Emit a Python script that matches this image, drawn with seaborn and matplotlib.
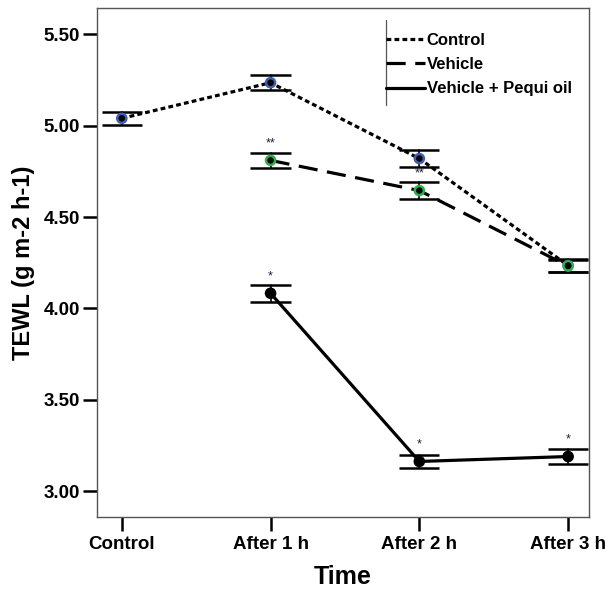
import pandas as pd
import seaborn as sns
import matplotlib.pyplot as plt
from matplotlib.lines import Line2D

# values
times = ["Control", "After 1 h", "After 2 h", "After 3 h"]

control_x = ["Control", "After 1 h", "After 2 h", "After 3 h"]
control_mean = [5.04, 5.235, 4.82, 4.235]
control_err = [0.035, 0.04, 0.045, 0.035]

vehicle_x = ["After 1 h", "After 2 h", "After 3 h"]
vehicle_mean = [4.81, 4.645, 4.232]
vehicle_err = [0.04, 0.045, 0.035]

pequi_x = ["After 1 h", "After 2 h", "After 3 h"]
pequi_mean = [4.083, 3.163, 3.19]
pequi_err = [0.045, 0.035, 0.04]

vehicle_marks = ["**", "**", ""]
pequi_marks = ["*", "*", "*"]

groups = ["Control", "Vehicle", "Vehicle + Pequi oil"]

rows = []
for g, xs, ms, es in [("Control", control_x, control_mean, control_err),
                      ("Vehicle", vehicle_x, vehicle_mean, vehicle_err),
                      ("Vehicle + Pequi oil", pequi_x, pequi_mean, pequi_err)]:
    for t, m, e in zip(xs, ms, es):
        rows.append({"group": g, "time": t, "pos": times.index(t), "tewl": m, "err": e})
df = pd.DataFrame(rows)

sns.set_style("white")
plt.rcParams["font.family"] = ["Liberation Sans", "DejaVu Sans"]
plt.rcParams["font.weight"] = "bold"
plt.rcParams["text.color"] = "black"
plt.rcParams["axes.labelcolor"] = "black"
plt.rcParams["xtick.color"] = "black"
plt.rcParams["ytick.color"] = "black"

fig = plt.figure(figsize=(6.05, 5.89), dpi=100)
ax = fig.add_axes([0.160, 0.1222, 0.8137, 0.8637])

lw = 2.3
dash_map = {"Control": (1.5, 1.0), "Vehicle": (6, 3), "Vehicle + Pequi oil": ""}
sns.lineplot(data=df, x="pos", y="tewl", hue="group", style="group",
             palette=["black"] * 3, dashes=dash_map, linewidth=lw,
             legend=False, ax=ax, sort=False, errorbar=None)

# error bar caps
cap_w = 0.135
for _, r in df.iterrows():
    for yv in (r.tewl - r.err, r.tewl + r.err):
        ax.plot([r.pos - cap_w, r.pos + cap_w], [yv, yv], color="black", lw=1.8,
                solid_capstyle="butt")
    ax.plot([r.pos, r.pos], [r.tewl - r.err, r.tewl + r.err], color="black", lw=1.2)

# markers: coloured disk with small black centre
sns.scatterplot(data=df, x="pos", y="tewl", hue="group",
                palette={"Control": "#3f5fb0", "Vehicle": "#2fb04f",
                         "Vehicle + Pequi oil": "black"},
                s=70, edgecolor="none", legend=False, ax=ax, zorder=4)
sns.scatterplot(data=df, x="pos", y="tewl", color="black", s=22,
                edgecolor="none", legend=False, ax=ax, zorder=5)

# significance marks
for xs, ms, marks in [(vehicle_x, vehicle_mean, vehicle_marks),
                      (pequi_x, pequi_mean, pequi_marks)]:
    for t, m, mk in zip(xs, ms, marks):
        if mk:
            ax.text(times.index(t), m + 0.06, mk, ha="center", va="bottom",
                    fontsize=9, color="#1a2040", fontweight="normal")

ax.set_xlim(-0.168, 3.141)
ax.set_ylim(2.859, 5.642)
ax.set_xticks(range(len(times)))
ax.set_xticklabels(times)
ax.set_yticks([3.0, 3.5, 4.0, 4.5, 5.0, 5.5])
ax.set_yticklabels(["3.00", "3.50", "4.00", "4.50", "5.00", "5.50"])
ax.tick_params(axis="both", labelsize=13.5, width=1.8, color="black",
               direction="out", bottom=True, left=True)
ax.tick_params(axis="x", length=10, pad=4)
ax.tick_params(axis="y", length=10, pad=2)
for lab in ax.get_xticklabels() + ax.get_yticklabels():
    lab.set_fontweight("bold")
ax.set_xlabel("Time", fontsize=18, fontweight="bold", labelpad=8.5)
ax.set_ylabel("TEWL (g m-2 h-1)", fontsize=17, fontweight="bold", labelpad=6)
for sp in ax.spines.values():
    sp.set_color("#555555")
    sp.set_linewidth(1.0)

handles = [Line2D([], [], color="black", lw=lw, linestyle=(0, dash_map["Control"])),
           Line2D([], [], color="black", lw=lw, linestyle=(0, dash_map["Vehicle"])),
           Line2D([], [], color="black", lw=lw, linestyle="-")]
leg = ax.legend(handles, groups, loc="upper left", bbox_to_anchor=(0.587, 0.952),
                frameon=False, prop={"size": 12, "weight": "bold"},
                handlelength=2.35, handletextpad=0.1, labelspacing=0.56,
                borderaxespad=0, borderpad=0)
ax.add_line(Line2D([0.587, 0.587], [0.81, 0.977], transform=ax.transAxes,
                   color="#555555", lw=0.9))

plt.savefig("out.png", dpi=100)
